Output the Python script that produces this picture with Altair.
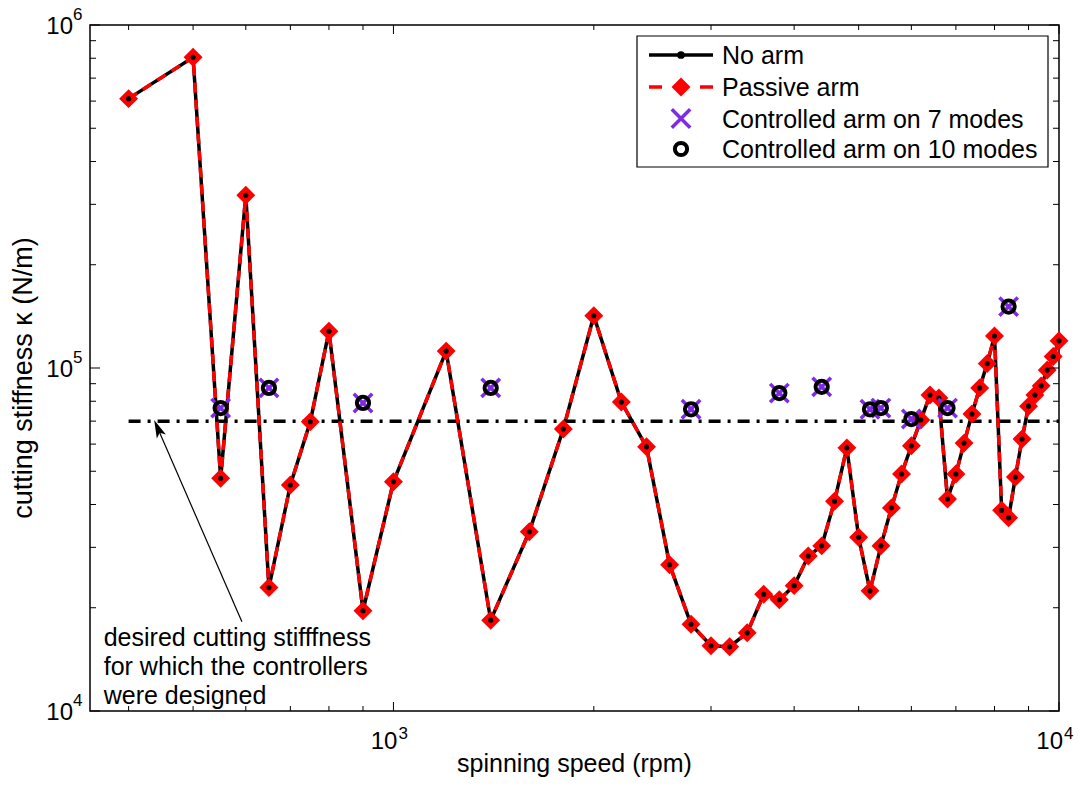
import math
import altair as alt
import pandas as pd

# ---------------- data ----------------
speeds = [400, 500, 550, 600, 650, 700, 750, 800, 900, 1000,
          1200, 1400, 1600, 1800, 2000, 2200, 2400, 2600, 2800, 3000,
          3200, 3400, 3600, 3800, 4000, 4200, 4400, 4600, 4800, 5000,
          5200, 5400, 5600, 5800, 6000, 6200, 6400, 6600, 6800, 7000,
          7200, 7400, 7600, 7800, 8000, 8200, 8400, 8600, 8800, 9000,
          9200, 9400, 9600, 9800, 10000]
no_arm = [610000, 805000, 47700, 319000, 22900, 45600, 69700, 128000, 19600, 46600,
          112000, 18400, 33300, 66400, 142000, 79600, 58900, 26700, 17900, 15500,
          15400, 16900, 21900, 21100, 23200, 28300, 30300, 40900, 58500, 32100,
          22400, 30300, 39100, 49100, 59300, 70500, 83400, 81800, 41500, 49100,
          60400, 73400, 87500, 103000, 124000, 38500, 36600, 48100, 62100, 77400,
          83400, 88700, 98600, 108000, 120000]
passive_arm = [610000, 805000, 47700, 319000, 22900, 45600, 69700, 128000, 19600, 46600,
               112000, 18400, 33300, 66400, 142000, 79600, 58900, 26700, 17900, 15500,
               15400, 16900, 21900, 21100, 23200, 28300, 30300, 40900, 58500, 32100,
               22400, 30300, 39100, 49100, 59300, 70500, 83400, 81800, 41500, 49100,
               60400, 73400, 87500, 103000, 124000, 38500, 36600, 48100, 62100, 77400,
               83400, 88700, 98600, 108000, 120000]
ctrl_speeds = [550, 650, 900, 1400, 2800, 3800, 4400, 5200, 5400, 6000, 6800, 8400]
ctrl_7 = [76400, 87500, 79100, 87500, 75800, 84500, 88100, 75800, 76400, 71000, 76400, 151000]
ctrl_10 = [76400, 87500, 79100, 87500, 75800, 84500, 88100, 75800, 76400, 71000, 76400, 151000]
threshold_speeds = [400, 10000]
threshold_k = [70000, 70000]

x_minor = [400, 500, 600, 700, 800, 900, 2000, 3000, 4000, 5000, 6000, 7000, 8000, 9000]
x_major = [1000, 10000]
x_exp = ["3", "4"]
y_minor = [20000, 30000, 40000, 50000, 60000, 70000, 80000, 90000,
           200000, 300000, 400000, 500000, 600000, 700000, 800000, 900000]
y_major = [10000, 100000, 1000000]
y_exp = ["4", "5", "6"]

x_title = "spinning speed (rpm)"
y_title = "cutting stiffness κ (N/m)"
legend_labels = ["No arm", "Passive arm", "Controlled arm on 7 modes", "Controlled arm on 10 modes"]
note_text = "desired cutting stifffness\nfor which the controllers\nwere designed"
arrow_tip = (437, 70500)
arrow_tail = (592, 18200)
note_anchor = (367, 15500)

# ---------------- style ----------------
FONT = "Liberation Sans"
W, H = 969, 686
XDOM = [350, 10000]
YDOM = [10000, 1000000]
PURPLE = "#7f2ae6"
XPATH = "M-1,-1L1,1M-1,1L1,-1"
ARROWPATH = "M0,-1L0.55,1L0,0.55L-0.55,1Z"

xs = alt.Scale(type="log", domain=XDOM, nice=False)
ys = alt.Scale(type="log", domain=YDOM, nice=False)


def X(field):
    return alt.X(field, type="quantitative", scale=xs, axis=None)


def Y(field):
    return alt.Y(field, type="quantitative", scale=ys, axis=None)


df_line = pd.DataFrame({"s": speeds, "k": no_arm, "kp": passive_arm})
df_ctrl = pd.DataFrame({"s": ctrl_speeds, "k7": ctrl_7, "k10": ctrl_10})
df_thr = pd.DataFrame({"s": threshold_speeds, "k": threshold_k})

layers = []
layers.append(alt.Chart(df_thr).mark_line(color="black", strokeWidth=3.5, strokeDash=[12, 7, 3, 7])
              .encode(x=X("s"), y=Y("k")))
layers.append(alt.Chart(df_line).mark_line(color="black", strokeWidth=3.5)
              .encode(x=X("s"), y=Y("k")))
layers.append(alt.Chart(df_line).mark_line(color="red", strokeWidth=3.5, strokeDash=[10, 7])
              .encode(x=X("s"), y=Y("kp")))
layers.append(alt.Chart(df_line).mark_point(shape="diamond", filled=True, fill="red", stroke="red",
                                            strokeWidth=2, size=260, opacity=1)
              .encode(x=X("s"), y=Y("kp")))
layers.append(alt.Chart(df_line).mark_point(shape="circle", filled=True, color="black", size=26, opacity=1)
              .encode(x=X("s"), y=Y("k")))
layers.append(alt.Chart(df_ctrl).mark_point(shape=XPATH, filled=False, color=PURPLE, strokeWidth=3.5,
                                            size=340, opacity=1)
              .encode(x=X("s"), y=Y("k7")))
layers.append(alt.Chart(df_ctrl).mark_point(shape="circle", filled=False, color="black", strokeWidth=4,
                                            size=150, opacity=1)
              .encode(x=X("s"), y=Y("k10")))

# ---------------- annotation arrow + text ----------------
dec_x = W / (math.log10(XDOM[1]) - math.log10(XDOM[0]))
dec_y = H / (math.log10(YDOM[1]) - math.log10(YDOM[0]))
vx = (math.log10(arrow_tip[0]) - math.log10(arrow_tail[0])) * dec_x
vy = -(math.log10(arrow_tip[1]) - math.log10(arrow_tail[1])) * dec_y
L = math.hypot(vx, vy)
angle = math.degrees(math.atan2(vx, -vy)) % 360
head_half = 9
f = head_half / L
head_s = 10 ** (math.log10(arrow_tip[0]) - f * (math.log10(arrow_tip[0]) - math.log10(arrow_tail[0])))
head_k = 10 ** (math.log10(arrow_tip[1]) - f * (math.log10(arrow_tip[1]) - math.log10(arrow_tail[1])))
df_arrow = pd.DataFrame({"s": [arrow_tail[0], head_s], "k": [arrow_tail[1], head_k]})
df_head = pd.DataFrame({"s": [head_s], "k": [head_k]})
df_note = pd.DataFrame({"s": [note_anchor[0]], "k": [note_anchor[1]], "t": [note_text]})

layers.append(alt.Chart(df_arrow).mark_line(color="black", strokeWidth=1.2)
              .encode(x=X("s"), y=Y("k")))
layers.append(alt.Chart(df_head).mark_point(shape=ARROWPATH, filled=True, color="black", size=324,
                                            angle=angle, opacity=1)
              .encode(x=X("s"), y=Y("k")))
layers.append(alt.Chart(df_note).mark_text(align="left", baseline="alphabetic", font=FONT, fontSize=25,
                                           lineBreak="\n", lineHeight=29, color="black")
              .encode(x=X("s"), y=Y("k"), text="t:N"))

# ---------------- inward ticks on all four sides ----------------
for vals, ln in ((x_minor, 5), (x_major, 9)):
    d = pd.DataFrame({"v": vals})
    layers.append(alt.Chart(d).mark_rule(color="black", strokeWidth=1)
                  .encode(x=X("v"), y=alt.value(H), y2=alt.value(H - ln)))
    layers.append(alt.Chart(d).mark_rule(color="black", strokeWidth=1)
                  .encode(x=X("v"), y=alt.value(0), y2=alt.value(ln)))
for vals, ln in ((y_minor, 6), (y_major, 10)):
    d = pd.DataFrame({"v": vals})
    layers.append(alt.Chart(d).mark_rule(color="black", strokeWidth=1)
                  .encode(y=Y("v"), x=alt.value(0), x2=alt.value(ln)))
    layers.append(alt.Chart(d).mark_rule(color="black", strokeWidth=1)
                  .encode(y=Y("v"), x=alt.value(W), x2=alt.value(W - ln)))

# ---------------- tick labels 10^n ----------------
df_xl = pd.DataFrame({"v": x_major, "e": x_exp})
df_yl = pd.DataFrame({"v": y_major, "e": y_exp})
layers.append(alt.Chart(df_xl).mark_text(align="right", baseline="alphabetic", font=FONT, fontSize=24,
                                         dx=4, color="black")
              .encode(x=X("v"), y=alt.value(H + 38), text=alt.value("10")))
layers.append(alt.Chart(df_xl).mark_text(align="left", baseline="alphabetic", font=FONT, fontSize=17,
                                         dx=5, color="black")
              .encode(x=X("v"), y=alt.value(H + 28), text="e:N"))
layers.append(alt.Chart(df_yl).mark_text(align="right", baseline="alphabetic", font=FONT, fontSize=24,
                                         dy=9, color="black")
              .encode(y=Y("v"), x=alt.value(-17), text=alt.value("10")))
layers.append(alt.Chart(df_yl).mark_text(align="left", baseline="alphabetic", font=FONT, fontSize=17,
                                         dy=-5, color="black")
              .encode(y=Y("v"), x=alt.value(-17), text="e:N"))

# ---------------- axis titles ----------------
one = pd.DataFrame({"d": [0]})
layers.append(alt.Chart(pd.DataFrame({"t": [x_title]}))
              .mark_text(align="center", baseline="alphabetic", font=FONT, fontSize=25, color="black")
              .encode(x=alt.value(W / 2), y=alt.value(H + 61), text="t:N"))
layers.append(alt.Chart(pd.DataFrame({"t": [y_title]}))
              .mark_text(align="center", baseline="middle", font=FONT, fontSize=27, color="black", angle=270)
              .encode(x=alt.value(-66), y=alt.value(H / 2 + 10), text="t:N"))

# ---------------- legend (drawn manually) ----------------
LX0, LX1, LY0, LY1 = 547, 958, 11, 142
rows = [30, 62, 93.5, 124]
sym_x0, sym_x1, sym_xc, txt_x = 559, 623, 591, 632
layers.append(alt.Chart(one).mark_rect(fill="white", stroke="black", strokeWidth=1.2)
              .encode(x=alt.value(LX0), x2=alt.value(LX1), y=alt.value(LY0), y2=alt.value(LY1)))
# row 1: No arm
layers.append(alt.Chart(one).mark_rule(color="black", strokeWidth=3.5)
              .encode(x=alt.value(sym_x0), x2=alt.value(sym_x1), y=alt.value(rows[0])))
layers.append(alt.Chart(one).mark_point(shape="circle", filled=True, color="black", size=60, opacity=1)
              .encode(x=alt.value(sym_xc), y=alt.value(rows[0])))
# row 2: Passive arm
layers.append(alt.Chart(one).mark_rule(color="red", strokeWidth=3.5, strokeDash=[13, 12.5])
              .encode(x=alt.value(sym_x0), x2=alt.value(sym_x1), y=alt.value(rows[1])))
layers.append(alt.Chart(one).mark_point(shape="diamond", filled=True, fill="red", stroke="red",
                                        strokeWidth=2, size=260, opacity=1)
              .encode(x=alt.value(sym_xc), y=alt.value(rows[1])))
# row 3: controlled 7 modes
layers.append(alt.Chart(one).mark_point(shape=XPATH, filled=False, color=PURPLE, strokeWidth=3.5,
                                        size=340, opacity=1)
              .encode(x=alt.value(sym_xc), y=alt.value(rows[2])))
# row 4: controlled 10 modes
layers.append(alt.Chart(one).mark_point(shape="circle", filled=False, color="black", strokeWidth=4,
                                        size=150, opacity=1)
              .encode(x=alt.value(sym_xc), y=alt.value(rows[3])))
for lab, ry in zip(legend_labels, rows):
    dl = pd.DataFrame({"t": [lab]})
    layers.append(alt.Chart(dl).mark_text(align="left", baseline="alphabetic", font=FONT, fontSize=25,
                                          dy=9, color="black")
                  .encode(x=alt.value(txt_x), y=alt.value(ry), text="t:N"))

chart = (alt.layer(*layers)
         .properties(width=W, height=H,
                     padding={"left": 90, "top": 25, "right": 20, "bottom": 76},
                     autosize=alt.AutoSizeParams(type="none"),
                     background="white")
         .configure_view(stroke="black", strokeWidth=1.5))

chart.save("out.html", embed_options={"renderer": "svg", "actions": False})
